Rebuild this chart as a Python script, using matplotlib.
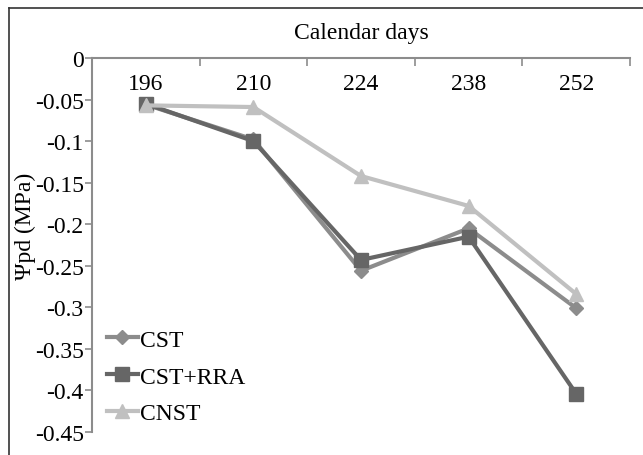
import numpy as np
import matplotlib
matplotlib.use("Agg")
import matplotlib.pyplot as plt
from matplotlib.ticker import FixedLocator, FuncFormatter

days = ["196", "210", "224", "238", "252"]
cst = [-0.056, -0.098, -0.256, -0.205, -0.301]
cst_rra = [-0.055, -0.100, -0.243, -0.215, -0.404]
cnst = [-0.057, -0.059, -0.142, -0.178, -0.284]

plt.rcParams["font.family"] = ["Liberation Serif", "DejaVu Serif"]
plt.rcParams["axes.unicode_minus"] = False

AXIS = "#8c8c8c"
FS = 17

fig = plt.figure(figsize=(6.43, 4.56), dpi=100)
ax = fig.add_axes([92 / 643, 1 - 433 / 456, (630 - 92) / 643, (433 - 59) / 456])

x = np.arange(len(days))
ax.plot(x, cst, color="#8c8c8c", lw=3, marker="D", ms=7, label="CST")
ax.plot(x, cst_rra, color="#666666", lw=3, marker="s", ms=9.5, label="CST+RRA")
ax.plot(x, cnst, color="#c0c0c0", lw=3, marker="^", ms=10, label="CNST")

ax.set_xlim(-0.5, len(days) - 0.5)
ax.set_ylim(-0.45, 0)

# x axis sits on top at y = 0, boundary ticks point down into the plot
ax.xaxis.tick_top()
ax.xaxis.set_label_position("top")
ax.set_xticks(np.arange(-0.5, len(days), 1.0))
ax.set_xticklabels([])
ax.xaxis.set_minor_locator(FixedLocator(x))
ax.set_xticklabels(days, minor=True)
ax.tick_params(axis="x", which="major", direction="in", length=6, color=AXIS, width=1.2)
ax.tick_params(axis="x", which="minor", length=0, top=True, labeltop=True,
               pad=-26, labelsize=FS)
ax.set_xlabel("Calendar days", fontsize=FS, labelpad=11)

yt = np.arange(0, -0.4501, -0.05)
ax.set_yticks(yt)
ax.yaxis.set_major_formatter(FuncFormatter(lambda v, p: f"{round(v, 2):g}"))
ax.tick_params(axis="y", direction="out", length=5, color=AXIS, width=1.2,
               labelsize=FS, pad=1)
ax.set_ylabel("Ψpd (MPa)", fontsize=FS)
ax.yaxis.set_label_coords(-0.104, 0.553)

for s in ["right", "bottom"]:
    ax.spines[s].set_visible(False)
for s in ["top", "left"]:
    ax.spines[s].set_color(AXIS)
    ax.spines[s].set_linewidth(1.5)

ax.legend(loc="lower left", bbox_to_anchor=(0.01, -0.005), frameon=False,
          fontsize=FS, handlelength=1.3, handletextpad=0.1, labelspacing=0.65,
          borderaxespad=0)

# outer frame (only top and left edges show in the crop)
fig.add_artist(plt.Line2D([9 / 643, 1], [1 - 9 / 456] * 2, color="#333333", lw=1.2,
                          transform=fig.transFigure))
fig.add_artist(plt.Line2D([9 / 643] * 2, [0, 1 - 9 / 456], color="#333333", lw=1.2,
                          transform=fig.transFigure))

fig.savefig("out.png", dpi=100, facecolor="white")
